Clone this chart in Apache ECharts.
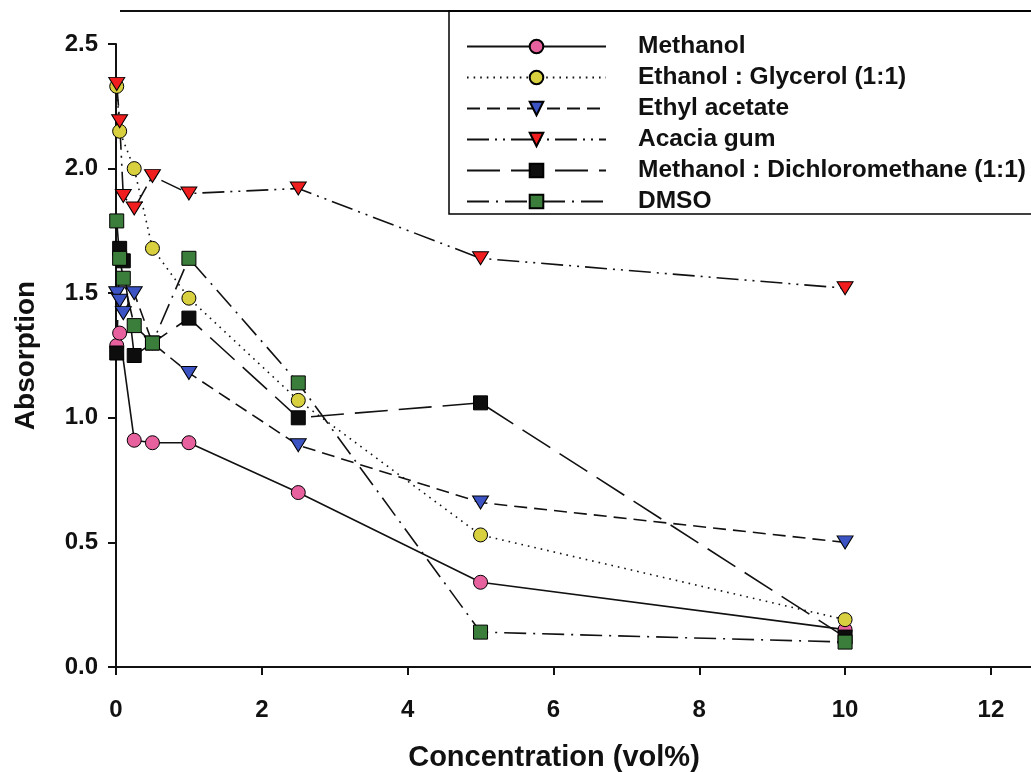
<!DOCTYPE html>
<html>
<head>
<meta charset="utf-8">
<script src="https://cdn.jsdelivr.net/npm/echarts@6/dist/echarts.min.js"></script>
<style>
html,body{margin:0;padding:0;background:#fff;}
#c{width:1031px;height:772px;}
</style>
</head>
<body>
<div id="c"></div>
<script>
// ---- data ----
const seriesNames = ['Methanol', 'Ethanol : Glycerol (1:1)', 'Ethyl acetate', 'Acacia gum', 'Methanol : Dichloromethane (1:1)', 'DMSO'];
const methanolX = [0.01, 0.05, 0.25, 0.5, 1, 2.5, 5, 10];
const methanolY = [1.29, 1.34, 0.91, 0.90, 0.90, 0.70, 0.34, 0.15];
const ethanolX = [0.01, 0.05, 0.25, 0.5, 1, 2.5, 5, 10];
const ethanolY = [2.33, 2.15, 2.00, 1.68, 1.48, 1.07, 0.53, 0.19];
const conc = [0.01, 0.05, 0.1, 0.25, 0.5, 1, 2.5, 5, 10];
const ethylY = [1.50, 1.47, 1.42, 1.50, 1.30, 1.18, 0.89, 0.66, 0.50];
const acaciaY = [2.34, 2.19, 1.89, 1.84, 1.97, 1.90, 1.92, 1.64, 1.52];
const mdcmY = [1.26, 1.68, 1.63, 1.25, 1.30, 1.40, 1.00, 1.06, 0.12];
const dmsoY = [1.79, 1.64, 1.56, 1.37, 1.30, 1.64, 1.14, 0.14, 0.10];
const xTicks = [0, 2, 4, 6, 8, 10, 12];
const yTicks = [0, 0.5, 1.0, 1.5, 2.0, 2.5];

// ---- styling ----
const FONT = "'Liberation Sans', Arial, Helvetica, sans-serif";
const downTri = 'path://M0,0 L16,0 L8,13 Z';
const pair = (xs, ys) => xs.map((x, i) => [x, ys[i]]);

function mk(name, data, symbol, size, color, dash) {
  return {
    name, type: 'line', data,
    symbol, symbolSize: size,
    itemStyle: { color, borderColor: '#000', borderWidth: 1 },
    lineStyle: { color: '#111', width: 1.6, type: dash },
    emphasis: { disabled: true },
    animation: false
  };
}

const series = [
  mk(seriesNames[0], pair(methanolX, methanolY), 'circle', 14, '#e8619f', 'solid'),
  mk(seriesNames[1], pair(ethanolX, ethanolY), 'circle', 14, '#d8d03e', [1.6, 5]),
  mk(seriesNames[2], pair(conc, ethylY), downTri, [16, 13], '#3c53c4', [13, 7]),
  mk(seriesNames[3], pair(conc, acaciaY), downTri, [16, 13], '#f01e1e', [22, 6, 2, 6, 2, 6]),
  mk(seriesNames[4], pair(conc, mdcmY), 'rect', 14, '#0d0d0d', [33, 11]),
  mk(seriesNames[5], pair(conc, dmsoY), 'rect', 14, '#3b7d3b', [22, 7, 2, 7])
];

const chart = echarts.init(document.getElementById('c'), null, { renderer: 'canvas' });
chart.setOption({
  backgroundColor: '#fff',
  animation: false,
  textStyle: { fontFamily: FONT },
  grid: { left: 116, right: 0, top: 44, bottom: 105, containLabel: false, outerBoundsMode: 'none' },
  legend: {
    orient: 'vertical',
    left: 449, top: 11,
    padding: [23, 40, 0, 17],
    itemWidth: 139, itemHeight: 17, itemGap: 6,
    borderColor: '#000', borderWidth: 1.5,
    selectedMode: false,
    textStyle: { fontFamily: FONT, fontWeight: 'bold', fontSize: 24.5, color: '#111', padding: [0, 0, 0, 27] },
    data: seriesNames
  },
  xAxis: {
    type: 'value', min: 0, max: 12.55, interval: 2,
    name: 'Concentration (vol%)', nameLocation: 'middle', nameGap: 76,
    nameTextStyle: { fontFamily: FONT, fontWeight: 'bold', fontSize: 29, color: '#111', padding: [0, 39, 0, 0] },
    axisLine: { lineStyle: { color: '#111', width: 2 } },
    axisTick: { show: true, inside: false, length: 8, lineStyle: { color: '#111', width: 2 }, customValues: xTicks },
    axisLabel: { margin: 31, fontFamily: FONT, fontWeight: 'bold', fontSize: 24, color: '#111', customValues: xTicks,
      formatter: v => (xTicks.indexOf(v) >= 0 ? String(v) : '') },
    splitLine: { show: false }
  },
  yAxis: {
    type: 'value', min: 0, max: 2.5, interval: 0.5,
    name: 'Absorption', nameLocation: 'middle', nameGap: 76, nameRotate: 90,
    nameTextStyle: { fontFamily: FONT, fontWeight: 'bold', fontSize: 28, color: '#111' },
    axisLine: { lineStyle: { color: '#111', width: 2 } },
    axisTick: { show: true, inside: false, length: 8, lineStyle: { color: '#111', width: 2 } },
    axisLabel: { margin: 18, fontFamily: FONT, fontWeight: 'bold', fontSize: 24, color: '#111',
      formatter: v => v.toFixed(1) },
    splitLine: { show: false }
  },
  graphic: [{
    type: 'line', silent: true,
    shape: { x1: 120, y1: 11, x2: 1031, y2: 11 },
    style: { stroke: '#111', lineWidth: 2 }
  }],
  series
});
</script>
</body>
</html>
